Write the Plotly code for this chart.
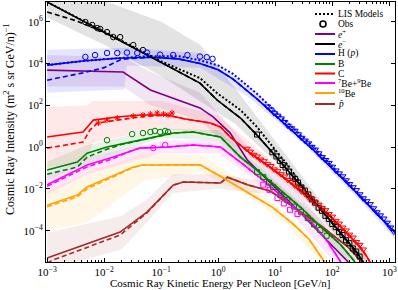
import numpy as np
import plotly.graph_objects as go

# ---------------- data (log10 values) ----------------
# electrons e-
em_x = [-3.0, -2.0, -1.0, -0.32, -0.02, 0.39, 0.68, 0.96, 1.56, 2.14, 2.44, 2.54]
em_y = [6.94, 5.5, 4.07, 3.06, 2.25, 1.39, 0.57, -0.29, -2.2, -4.11, -5.07, -5.5]
em_dash_x = [-3.0, -2.5, -2.0, -1.0, -0.32, -0.02, 0.39, 0.68, 0.96, 1.56, 2.14, 2.44, 2.54]
em_dash_y = [6.46, 6.05, 5.5, 4.07, 3.06, 2.25, 1.39, 0.57, -0.29, -2.2, -4.11, -5.07, -5.5]
em_lis_x = [-3.0, -2.0, -1.0, -0.32, -0.02, 0.39, 0.68, 0.96, 1.26, 1.56, 2.14, 2.54]
em_lis_y = [6.94, 5.5, 4.1, 3.3, 2.58, 1.77, 0.96, 0.0, -1.0, -2.2, -4.11, -5.5]
em_band_x = [-3.0, -2.0, -1.0, -0.32, 0.3, 1.0, 2.0, 2.6]
em_band_hi = [7.8, 7.0, 6.0, 4.9, 2.8, 0.3, -3.3, -5.2]
em_band_lo = [6.2, 4.9, 3.4, 2.2, 1.1, -0.7, -4.0, -5.8]
em_obs_lo_x = [-2.33, -2.21, -2.12, -2.07, -1.95, -1.84, -1.72, -1.49, -1.32]
em_obs_lo_y = [5.98, 5.84, 5.69, 5.65, 5.5, 5.26, 5.26, 4.88, 4.64]
em_obs_hi_x = [0.68, 0.95, 1.02, 1.08, 1.13, 1.18, 1.24, 1.30, 1.35, 1.40, 1.46, 1.52, 1.58, 1.64,
               1.70, 1.76, 1.82, 1.88, 1.94, 2.00, 2.06, 2.12, 2.18, 2.24, 2.30, 2.36, 2.42, 2.48]
em_obs_hi_y = [0.6, -0.25, -0.45, -0.66, -0.86, -0.98, -1.17, -1.41, -1.53, -1.70, -1.93, -2.08,
               -2.27, -2.50, -2.66, -2.90, -3.05, -3.29, -3.44, -3.68, -3.83, -4.07, -4.21, -4.46,
               -4.60, -4.85, -5.0, -5.24]

# positrons e+
ep_x = [-3.0, -2.4, -1.67, -1.19, -0.32, -0.09, 0.21, 0.51, 0.8, 1.09, 1.39, 1.67, 1.95, 2.28]
ep_y = [3.68, 3.64, 3.59, 2.73, 1.87, 1.44, 0.67, -0.62, -1.4, -2.2, -3.0, -3.8, -4.6, -5.5]
ep_band_x = [-3.0, -1.67, -1.19, -0.32, 0.5, 1.5, 2.3]
ep_band_hi = [4.4, 4.3, 3.6, 2.6, 0.1, -2.5, -5.2]
ep_band_lo = [2.9, 2.9, 2.0, 1.3, -0.9, -3.2, -5.8]

# protons H (p)
h_x = [-3.0, -2.37, -1.77, -1.19, -0.7, -0.32, 0.0, 0.26, 0.68, 1.04, 1.67, 2.26, 2.72, 3.1]
h_y = [3.92, 4.12, 4.25, 4.3, 4.22, 4.0, 3.7, 3.25, 2.3, 1.42, -0.14, -1.72, -3.01, -4.1]
h_dash_x = [-3.0, -2.37, -2.0, -1.7, -1.19, -0.7, -0.32, 0.0, 0.26, 0.68, 1.04, 1.67, 2.26, 2.72, 3.1]
h_dash_y = [3.2, 3.55, 3.8, 4.2, 4.3, 4.22, 4.0, 3.7, 3.25, 2.3, 1.42, -0.14, -1.72, -3.01, -4.1]
h_lis_x = [-3.0, -2.37, -1.77, -1.19, -0.7, -0.32, 0.0, 0.26, 0.68, 1.04, 1.67, 2.26, 2.72, 3.1]
h_lis_y = [3.92, 4.12, 4.25, 4.35, 4.35, 4.15, 3.9, 3.5, 2.55, 1.6, 0.0, -1.65, -2.98, -4.08]
h_band_x = [-3.0, -1.65, -1.6, -0.32, 0.5, 1.5, 2.5, 3.1]
h_band_hi = [4.65, 4.75, 4.75, 4.5, 3.0, 0.6, -2.2, -3.8]
h_band_lo = [2.6, 2.75, 3.9, 3.8, 2.45, 0.15, -2.6, -4.4]
h_obs_lo_x = [-2.33, -2.16, -1.95, -1.77, -1.60, -1.42, -1.25, -1.02, -0.79, -0.54, -0.32, -0.2, -0.1]
h_obs_lo_y = [4.31, 4.4, 4.5, 4.5, 4.52, 4.5, 4.52, 4.42, 4.4, 4.4, 4.33, 4.3, 4.22]
h_obs_hi_x = [0.86, 0.92, 0.98, 1.04, 1.10, 1.16, 1.22, 1.28, 1.34, 1.40, 1.46, 1.52, 1.58, 1.64,
              1.70, 1.76, 1.82, 1.88, 1.94, 2.00, 2.06, 2.12, 2.18, 2.24, 2.30, 2.36, 2.42, 2.48,
              2.54, 2.60, 2.66, 2.72, 2.78, 2.84, 2.90, 2.96, 3.02, 3.08]
h_obs_hi_y = [1.94, 1.79, 1.62, 1.50, 1.37, 1.20, 1.02, 0.90, 0.78, 0.61, 0.44, 0.31, 0.18, 0.01,
              -0.12, -0.30, -0.48, -0.62, -0.76, -0.94, -1.12, -1.26, -1.40, -1.59, -1.77, -1.92,
              -2.06, -2.26, -2.45, -2.59, -2.73, -2.93, -3.12, -3.27, -3.42, -3.62, -3.85, -4.05]

# boron B
b_x = [-3.0, -2.47, -2.3, -1.95, -1.37, -0.79, -0.44, 0.04, 0.39, 0.74, 1.09, 1.44, 1.79, 2.14, 2.4]
b_y = [-1.1, -0.72, -0.29, 0.0, 0.33, 0.67, 0.72, 0.48, -0.48, -1.24, -2.06, -2.87, -3.8, -4.65, -5.5]
b_dash_x = [-3.0, -2.47, -2.3, -1.95, -1.7, -1.37, -0.79, -0.44, 0.04, 0.39, 0.74, 1.09, 1.44, 1.79, 2.14, 2.4]
b_dash_y = [-1.3, -0.96, -0.48, -0.1, 0.12, 0.33, 0.67, 0.72, 0.48, -0.48, -1.24, -2.06, -2.87, -3.8, -4.65, -5.5]
b_band_x = [-3.0, -2.3, -1.0, 0.0, 1.0, 2.0, 2.4]
b_band_hi = [-0.7, 0.1, 0.9, 0.8, -1.6, -4.2, -5.3]
b_band_lo = [-1.6, -0.8, 0.45, 0.3, -2.1, -4.7, -5.8]
b_obs_lo_x = [-1.95, -1.51, -1.32, -1.19, -1.11, -1.02, -0.93, -0.88]
b_obs_lo_y = [0.33, 0.62, 0.67, 0.72, 0.77, 0.72, 0.77, 0.72]
b_obs_hi_x = [0.68, 0.79, 0.89, 0.96, 1.09, 1.21, 1.33, 1.45, 1.57, 1.68, 1.79, 1.9]
b_obs_hi_y = [-1.2, -1.44, -1.7, -1.91, -2.3, -2.54, -2.85, -3.1, -3.4, -3.7, -3.97, -4.25]

# carbon C
c_x = [-3.0, -2.37, -2.19, -1.77, -1.37, -0.9, -0.6, -0.14, 0.04, 0.21, 0.56, 0.91, 1.21, 1.56,
       1.91, 2.26, 2.49, 2.61, 2.66]
c_y = [0.48, 0.72, 1.29, 1.44, 1.53, 1.53, 1.35, 1.15, 0.96, 0.48, -0.29, -0.96, -1.58, -2.39,
       -3.16, -4.11, -4.78, -5.26, -5.5]
c_dash_x = [-3.0, -2.37, -2.25, -2.12, -1.77, -1.37, -1.1, -0.9, -0.6, -0.14, 0.04, 0.21, 0.56,
            0.91, 1.21, 1.56, 1.91, 2.26, 2.49, 2.61, 2.66]
c_dash_y = [-0.05, 0.24, 0.81, 1.15, 1.29, 1.44, 1.5, 1.53, 1.35, 1.15, 0.96, 0.48, -0.29,
            -0.96, -1.58, -2.39, -3.16, -4.11, -4.78, -5.26, -5.5]
c_band_x = [-3.0, -2.3, -2.2, -1.0, 0.0, 1.0, 2.0, 2.66]
c_band_hi = [1.9, 2.0, 2.2, 2.2, 1.5, -0.8, -3.2, -5.1]
c_band_lo = [-1.0, -0.6, 0.2, 0.9, 0.6, -1.3, -3.7, -5.7]
c_obs_lo_x = [-2.1, -1.95, -1.77, -1.49, -1.32, -1.19, -1.07, -0.96, -0.88, -0.81]
c_obs_lo_y = [1.15, 1.29, 1.39, 1.48, 1.53, 1.58, 1.63, 1.58, 1.53, 1.63]
c_obs_hi_x = [0.50, 0.56, 0.62, 0.68, 0.74, 0.80, 0.86, 0.92, 0.98, 1.04, 1.10, 1.16, 1.22, 1.28,
              1.34, 1.40, 1.46, 1.52, 1.58, 1.64, 1.70, 1.76, 1.82, 1.88, 1.94, 2.00, 2.06, 2.12,
              2.18, 2.24, 2.30, 2.36, 2.42, 2.48, 2.54]
c_obs_hi_y = [-0.08, -0.22, -0.37, -0.45, -0.60, -0.68, -0.82, -0.91, -1.07, -1.16, -1.30, -1.41,
              -1.57, -1.67, -1.84, -1.95, -2.12, -2.23, -2.40, -2.50, -2.66, -2.76, -2.92, -3.02,
              -3.20, -3.33, -3.53, -3.66, -3.85, -3.99, -4.19, -4.33, -4.54, -4.68, -4.90]

# beryllium 7Be+9Be
be_x = [-3.0, -2.54, -2.3, -1.84, -1.37, -0.9, -0.44, 0.04, 0.21, 0.45, 0.86, 1.32, 1.67, 1.91, 2.15]
be_y = [-1.8, -1.2, -0.86, -0.48, -0.05, 0.0, 0.1, 0.0, -0.35, -0.85, -1.75, -2.87, -3.7, -4.5, -5.5]
be_dash_x = [-3.0, -2.54, -2.3, -1.84, -1.5, -1.37, -0.9, -0.44, 0.04, 0.21, 0.45, 0.86, 1.32, 1.67, 1.91, 2.15]
be_dash_y = [-1.88, -1.28, -0.95, -0.55, -0.15, -0.05, 0.0, 0.1, 0.0, -0.35, -0.85, -1.75, -2.87, -3.7, -4.5, -5.5]
be_band_x = [-3.0, -2.3, -1.0, 0.0, 1.0, 2.0, 2.15]
be_band_hi = [-1.3, -0.5, 0.3, 0.35, -1.7, -4.8, -5.3]
be_band_lo = [-2.3, -1.3, -0.3, -0.3, -2.3, -5.4, -5.8]
be_obs_lo_x = [-1.14, -0.93]
be_obs_lo_y = [-0.05, 0.1]
be_obs_hi_x = [0.79, 0.9, 1.04, 1.15, 1.26, 1.39]
be_obs_hi_y = [-1.8, -2.05, -2.44, -2.7, -3.0, -3.2]

# 10Be
be10_x = [-3.0, -2.47, -2.3, -1.49, -1.32, -0.32, 0.04, 0.39, 0.61, 0.96, 1.32, 1.59, 1.84, 1.87]
be10_y = [-2.78, -2.3, -1.91, -0.96, -0.86, -0.85, -1.4, -1.96, -2.3, -2.9, -3.7, -4.4, -5.4, -5.5]
be10_dash_x = [-3.0, -2.47, -2.3, -1.9, -1.49, -1.32, -0.32, 0.04, 0.39, 0.61, 0.96, 1.32, 1.59, 1.84, 1.87]
be10_dash_y = [-2.86, -2.38, -2.0, -1.5, -0.98, -0.86, -0.85, -1.4, -1.96, -2.3, -2.9, -3.7, -4.4, -5.4, -5.5]
be10_band_x = [-3.0, -2.3, -1.3, -0.3, 0.5, 1.2, 1.9]
be10_band_hi = [-2.1, -1.2, -0.3, -0.4, -1.7, -3.2, -5.2]
be10_band_lo = [-4.0, -3.6, -1.6, -1.2, -2.3, -3.7, -5.8]

# antiprotons
pb_x = [-3.0, -1.72, -1.25, -0.79, -0.61, 0.04, 0.16, 0.51, 0.91, 1.32, 1.84, 2.26, 2.44, 2.52]
pb_y = [-5.31, -4.07, -3.11, -1.82, -1.67, -1.72, -1.44, -1.8, -2.1, -2.87, -3.85, -4.75, -5.26, -5.5]
pb_dash_x = [-3.0, -2.9, -1.72, -1.4, -1.25, -0.79, -0.61, 0.04, 0.16, 0.51, 0.91, 1.32, 1.84, 2.26, 2.44, 2.52]
pb_dash_y = [-5.55, -5.41, -4.21, -3.49, -3.15, -1.82, -1.67, -1.72, -1.44, -1.8, -2.1, -2.87, -3.85, -4.75, -5.26, -5.5]
pb_band_x = [-3.0, -1.7, -1.25, -0.8, 0.0, 1.0, 2.0, 2.55]
pb_band_hi = [-4.1, -3.3, -2.5, -1.3, -1.3, -1.7, -3.8, -5.2]
pb_band_lo = [-5.9, -4.9, -3.6, -2.2, -2.0, -2.3, -4.4, -5.8]

legend_labels = ["LIS Models", "Obs", "<i>e</i><sup>+</sup>", "<i>e</i><sup>−</sup>",
                 "H (<i>p</i>)", "B", "C", "<sup>7</sup>Be+<sup>9</sup>Be", "<sup>10</sup>Be",
                 "<i>p\u0304</i>"]
legend_colors = ["black", "black", "#800080", "black", "#0000ff", "#008000", "#ff0000",
                 "#ff00ff", "#ffa500", "#a52a2a"]

x_tick_exp = [-3, -2, -1, 0, 1, 2, 3]
y_tick_exp = [-4, -2, 0, 2, 4, 6]
x_title = "Cosmic Ray Kinetic Energy Per Nucleon [GeV/n]"
y_title = "Cosmic Ray Intensity (m<sup>2</sup> s sr GeV/n)<sup>−1</sup>"

# ---------------- figure ----------------
def p10(a):
    return [10.0 ** v for v in a]

fig = go.Figure()

def band(xs, lo, hi, rgba):
    fig.add_trace(go.Scatter(x=p10(xs + xs[::-1]), y=p10(hi + lo[::-1]), fill="toself",
                             fillcolor=rgba, line=dict(width=0), mode="lines",
                             hoverinfo="skip", showlegend=False))

def line(xs, ys, color, dash="solid", width=1.6):
    fig.add_trace(go.Scatter(x=p10(xs), y=p10(ys), mode="lines",
                             line=dict(color=color, width=width, dash=dash), showlegend=False))

def obs(xs, ys, color, symbol, size=5.5):
    fig.add_trace(go.Scatter(x=p10(xs), y=p10(ys), mode="markers",
                             marker=dict(symbol=symbol, size=size, color=color,
                                         line=dict(color=color, width=1)),
                             showlegend=False, cliponaxis=True))

band(em_band_x, em_band_lo, em_band_hi, "rgba(128,128,128,0.22)")
band(h_band_x, h_band_lo, h_band_hi, "rgba(0,0,255,0.10)")
band(ep_band_x, ep_band_lo, ep_band_hi, "rgba(128,0,128,0.10)")
band(c_band_x, c_band_lo, c_band_hi, "rgba(255,0,0,0.09)")
band(b_band_x, b_band_lo, b_band_hi, "rgba(0,128,0,0.10)")
band(be_band_x, be_band_lo, be_band_hi, "rgba(255,0,255,0.09)")
band(be10_band_x, be10_band_lo, be10_band_hi, "rgba(255,165,0,0.10)")
band(pb_band_x, pb_band_lo, pb_band_hi, "rgba(165,42,42,0.09)")

series = [
    (pb_x, pb_y, pb_dash_x, pb_dash_y, "#a52a2a"),
    (be10_x, be10_y, be10_dash_x, be10_dash_y, "#ffa500"),
    (be_x, be_y, be_dash_x, be_dash_y, "#ff00ff"),
    (b_x, b_y, b_dash_x, b_dash_y, "#008000"),
    (c_x, c_y, c_dash_x, c_dash_y, "#ff0000"),
    (h_x, h_y, h_dash_x, h_dash_y, "#0000ff"),
    (em_x, em_y, em_dash_x, em_dash_y, "black"),
]
line(ep_x, ep_y, "#800080")
for sx, sy, dx, dy, col in series:
    line(dx, dy, col, dash="5px,3px")
    line(sx, sy, col)
line(h_lis_x, h_lis_y, "#0000ff", dash="2px,2px", width=2)
line(em_lis_x, em_lis_y, "black", dash="2px,2px", width=2)

obs(em_obs_lo_x, em_obs_lo_y, "black", "circle-open")
obs(em_obs_hi_x, em_obs_hi_y, "black", "square-open", 5)
obs(h_obs_lo_x, h_obs_lo_y, "#0000ff", "circle-open")
obs(h_obs_hi_x, h_obs_hi_y, "#0000ff", "triangle-down-open", 6)
obs(c_obs_lo_x, c_obs_lo_y, "#ff0000", "asterisk-open", 5)
obs(c_obs_hi_x, c_obs_hi_y, "#ff0000", "triangle-down-open", 6)
obs(b_obs_lo_x, b_obs_lo_y, "#008000", "circle-open")
obs(b_obs_hi_x, b_obs_hi_y, "#008000", "square-open", 5)
obs(be_obs_lo_x, be_obs_lo_y, "#ff00ff", "circle-open")
obs(be_obs_hi_x, be_obs_hi_y, "#ff00ff", "square-open", 5)

# ---------------- manual legend & titles ----------------
L, R, T, B = 46, 395, 2, 262
def px2paper(px, py):
    return (px - L) / (R - L), (B - py) / (B - T)

leg_y = [14, 24, 34, 44, 54, 64, 73.5, 83, 93, 104]
shapes = []
annotations = []
for i, (lab, col) in enumerate(zip(legend_labels, legend_colors)):
    py = leg_y[i]
    if i == 1:
        cx, cy = px2paper(323, py)
        rx, ry = 3 / (R - L), 3 / (B - T)
        shapes.append(dict(type="circle", xref="paper", yref="paper", x0=cx - rx, x1=cx + rx,
                           y0=cy - ry, y1=cy + ry, line=dict(color="black", width=1.6)))
    else:
        x0, y0 = px2paper(315, py)
        x1, _ = px2paper(335, py)
        shapes.append(dict(type="line", xref="paper", yref="paper", x0=x0, x1=x1, y0=y0, y1=y0,
                           line=dict(color=col, width=2, dash="2px,2px" if i == 0 else "solid")))
    tx, ty = px2paper(337, py)
    annotations.append(dict(text=lab, xref="paper", yref="paper", x=tx, y=ty, xanchor="left",
                            yanchor="middle", showarrow=False, borderpad=0,
                            font=dict(family="Liberation Serif", size=9.5, color="black")))

xt, yt = px2paper(220, 283)
annotations.append(dict(text=x_title, xref="paper", yref="paper", x=xt, y=yt, xanchor="center",
                        yanchor="middle", showarrow=False, borderpad=0,
                        font=dict(family="Liberation Serif", size=11, color="black")))
xt, yt = px2paper(10, 119)
annotations.append(dict(text=y_title, xref="paper", yref="paper", x=xt, y=yt, xanchor="center",
                        yanchor="middle", showarrow=False, textangle=-90, borderpad=0,
                        font=dict(family="Liberation Serif", size=12, color="black")))

minor_x = []
for d in range(-3, 3):
    for m in range(2, 10):
        minor_x.append(m * 10.0 ** d)

fig.update_layout(
    width=398, height=290,
    margin=dict(l=L, r=398 - R, t=T, b=290 - B),
    paper_bgcolor="white", plot_bgcolor="white",
    showlegend=False,
    shapes=shapes, annotations=annotations,
    font=dict(family="Liberation Serif", size=11, color="black"),
    xaxis=dict(type="log", range=[-3.02, 3.1], showgrid=False, zeroline=False,
               showline=True, linecolor="black", linewidth=1, mirror="ticks",
               ticks="inside", ticklen=4, tickcolor="black",
               tickmode="array", tickvals=[10.0 ** e for e in x_tick_exp],
               ticktext=["10<sup>%s</sup>" % (str(e).replace("-", "−")) for e in x_tick_exp],
               minor=dict(ticks="inside", ticklen=2, tickcolor="black", tickvals=minor_x, showgrid=False),
               tickfont=dict(size=11)),
    yaxis=dict(type="log", range=[-5.5, 6.94], showgrid=False, zeroline=False,
               showline=True, linecolor="black", linewidth=1, mirror="ticks",
               ticks="inside", ticklen=4, tickcolor="black",
               tickmode="array", tickvals=[10.0 ** e for e in y_tick_exp],
               ticktext=["10<sup>%s</sup>" % (str(e).replace("-", "−")) for e in y_tick_exp],
               tickfont=dict(size=11)),
)

fig.write_html("out.html", config={"displayModeBar": False},
               post_script="document.body.style.margin='0px';")
